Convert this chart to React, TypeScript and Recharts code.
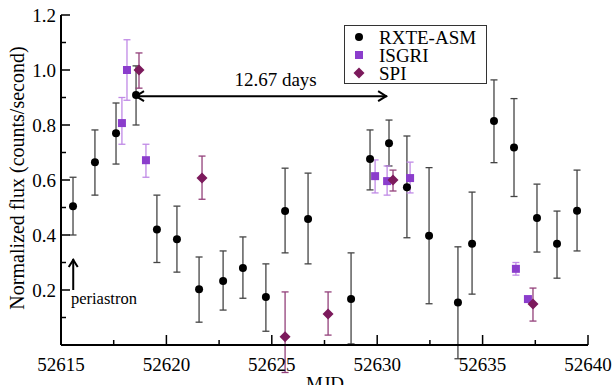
import {
  ComposedChart,
  Scatter,
  ErrorBar,
  XAxis,
  YAxis,
  Legend,
  ReferenceLine,
  ReferenceDot
} from 'recharts'

// RXTE-ASM
const asmMjd = [
  52615.57, 52616.61, 52617.61, 52618.56, 52619.55, 52620.5, 52621.55, 52622.69,
  52623.63, 52624.72, 52625.63, 52626.72, 52628.76, 52629.66, 52630.56, 52631.41,
  52632.46, 52633.83, 52634.5, 52635.54, 52636.49, 52637.58, 52638.53, 52639.48
]
const asmFlux = [
  0.505, 0.665, 0.77, 0.909, 0.42, 0.385, 0.203, 0.233, 0.28, 0.175, 0.487, 0.458,
  0.167, 0.676, 0.734, 0.574, 0.397, 0.155, 0.368, 0.815, 0.718, 0.462, 0.368, 0.488
]
const asmHi = [
  0.61, 0.782, 0.88, 1.015, 0.545, 0.505, 0.32, 0.342, 0.393, 0.295, 0.643, 0.625,
  0.335, 0.782, 0.818, 0.76, 0.645, 0.357, 0.556, 0.964, 0.896, 0.585, 0.487, 0.636
]
const asmLo = [
  0.4, 0.545, 0.658, 0.8, 0.3, 0.265, 0.083, 0.127, 0.17, 0.05, 0.335, 0.295,
  0.004, 0.564, 0.651, 0.39, 0.15, -0.05, 0.185, 0.663, 0.54, 0.338, 0.243, 0.342
]

// ISGRI
const isgriMjd = [52617.89, 52618.13, 52619.03, 52629.9, 52630.47, 52631.56, 52636.58, 52637.15]
const isgriFlux = [0.807, 1.0, 0.672, 0.614, 0.596, 0.607, 0.277, 0.167]
const isgriHi = [0.9, 1.11, 0.73, 0.673, 0.651, 0.665, 0.3, 0.175]
const isgriLo = [0.73, 0.89, 0.61, 0.553, 0.545, 0.553, 0.254, 0.158]

// SPI
const spiMjd = [52618.7, 52621.69, 52625.63, 52627.67, 52630.75, 52637.39]
const spiFlux = [1.0, 0.607, 0.03, 0.113, 0.6, 0.149]
const spiHi = [1.062, 0.687, 0.193, 0.193, 0.636, 0.207]
const spiLo = [0.934, 0.53, -0.1, 0.036, 0.56, 0.087]

const xTicks = [52615, 52617.5, 52620, 52622.5, 52625, 52627.5, 52630, 52632.5, 52635, 52637.5, 52640]
const yTicks = [0, 0.1, 0.2, 0.3, 0.4, 0.5, 0.6, 0.7, 0.8, 0.9, 1.0, 1.1, 1.2]

const build = (mjd: number[], flux: number[], lo: number[], hi: number[]) =>
  mjd.map((x, i) => ({ x, y: flux[i], err: [flux[i] - lo[i], hi[i] - flux[i]] }))

const asmData = build(asmMjd, asmFlux, asmLo, asmHi)
const isgriData = build(isgriMjd, isgriFlux, isgriLo, isgriHi)
const spiData = build(spiMjd, spiFlux, spiLo, spiHi)

const SERIF = 'Liberation Serif'
const ISGRI = '#8b3dcc'
const ISGRI_BAR = '#c08ae6'
const SPI = '#7c1a5c'
const SPI_BAR = '#93407a'

const txt = (size: number) => ({ fontFamily: SERIF, fontSize: size, fill: '#000' })

const isMajorX = (v: number) => Math.abs(v % 5) < 1e-6
const isMajorY = (v: number) => Math.abs((v * 10) % 2) < 1e-6

const BottomTick = (p: any) => {
  const v = p.payload.value
  const major = isMajorX(v)
  return (
    <g>
      <line x1={p.x} x2={p.x} y1={p.y} y2={p.y - (major ? 10 : 5)} stroke="#000" strokeWidth={1.5} />
      {major && (
        <text x={p.x} y={p.y + 26} textAnchor="middle" fontFamily={SERIF} style={txt(19)}>
          {v}
        </text>
      )}
    </g>
  )
}

const TopTick = (p: any) => {
  const major = isMajorX(p.payload.value)
  return <line x1={p.x} x2={p.x} y1={p.y} y2={p.y + (major ? 10 : 5)} stroke="#000" strokeWidth={1.5} />
}

const LeftTick = (p: any) => {
  const v = p.payload.value
  const major = isMajorY(v)
  return (
    <g>
      <line x1={p.x} x2={p.x + (major ? 9 : 5)} y1={p.y} y2={p.y} stroke="#000" strokeWidth={1.5} />
      {major && v > 0 && (
        <text x={p.x - 5} y={p.y + 7} textAnchor="end" fontFamily={SERIF} style={txt(19)}>
          {v.toFixed(1)}
        </text>
      )}
    </g>
  )
}

const RightTick = (p: any) => {
  const major = isMajorY(p.payload.value)
  return <line x1={p.x} x2={p.x - (major ? 9 : 5)} y1={p.y} y2={p.y} stroke="#000" strokeWidth={1.5} />
}

const Dot = (p: any) => <circle cx={p.cx} cy={p.cy} r={4} fill="#000" />
const Square = (p: any) => <rect x={p.cx - 4} y={p.cy - 4} width={8} height={8} fill={ISGRI} />
const Diamond = (p: any) => (
  <polygon
    points={`${p.cx},${p.cy - 5.5} ${p.cx + 5.5},${p.cy} ${p.cx},${p.cy + 5.5} ${p.cx - 5.5},${p.cy}`}
    fill={SPI}
  />
)

const DoubleArrow = (p: any) => {
  const { x1, y1, x2, y2 } = p
  return (
    <g stroke="#000" strokeWidth={2} fill="none">
      <line x1={x1} y1={y1} x2={x2} y2={y2} />
      <polyline points={`${x1 + 9},${y1 - 5} ${x1 + 1},${y1} ${x1 + 9},${y1 + 5}`} />
      <polyline points={`${x2 - 9},${y2 - 5} ${x2 - 1},${y2} ${x2 - 9},${y2 + 5}`} />
    </g>
  )
}

const UpArrow = (p: any) => {
  const { x1, y1, x2, y2 } = p
  const top = Math.min(y1, y2)
  const bottom = Math.max(y1, y2)
  return (
    <g stroke="#000" strokeWidth={2} fill="none">
      <line x1={x1} y1={bottom} x2={x2} y2={top} />
      <polyline points={`${x1 - 4.5},${top + 8} ${x1},${top + 1} ${x1 + 4.5},${top + 8}`} />
    </g>
  )
}

const legendItems = [
  { name: 'RXTE-ASM', icon: <circle cx={7} cy={7} r={4} fill="#000" /> },
  { name: 'ISGRI', icon: <rect x={3} y={3} width={8} height={8} fill={ISGRI} /> },
  { name: 'SPI', icon: <polygon points="7,1.5 12.5,7 7,12.5 1.5,7" fill={SPI} /> }
]

const LegendBox = () => (
  <div
    style={{
      width: 141,
      height: 57,
      border: '1px solid #333',
      background: '#fff',
      position: 'relative',
      fontFamily: SERIF,
      fontSize: 19
    }}
  >
    {legendItems.map((item, i) => (
      <div
        key={item.name}
        style={{ position: 'absolute', left: 7, top: 2 + i * 18, height: 18, display: 'flex', alignItems: 'center' }}
      >
        <svg width={14} height={14}>{item.icon}</svg>
        <span style={{ marginLeft: 13, lineHeight: '17px', color: '#000' }}>{item.name}</span>
      </div>
    ))}
  </div>
)

export default function App() {
  return (
    <div style={{ position: 'absolute', left: 0, top: 0, background: '#fff', fontFamily: SERIF }}>
      <ComposedChart width={615} height={385} margin={{ top: 15, right: 27, bottom: 0, left: 0 }} style={{ fontFamily: SERIF }}>
        <XAxis
          xAxisId="main"
          type="number"
          dataKey="x"
          domain={[52615, 52640]}
          ticks={xTicks}
          interval={0}
          allowDataOverflow
          height={40}
          tickSize={0}
          tickMargin={0}
          tickLine={false}
          tick={(p: any) => <BottomTick {...p} />}
          axisLine={{ stroke: '#000', strokeWidth: 2 }}
          label={{
            value: 'MJD',
            content: () => (
              <text x={325} y={390} textAnchor="middle" fontFamily={SERIF} style={txt(19)}>
                MJD
              </text>
            )
          }}
        />
        <XAxis
          xAxisId="top"
          orientation="top"
          type="number"
          domain={[52615, 52640]}
          ticks={xTicks}
          interval={0}
          allowDataOverflow
          height={0}
          tickSize={0}
          tickMargin={0}
          tickLine={false}
          tick={(p: any) => <TopTick {...p} />}
          axisLine={{ stroke: '#000', strokeWidth: 2 }}
        />
        <YAxis
          yAxisId="main"
          type="number"
          domain={[0, 1.2]}
          ticks={yTicks}
          interval={0}
          allowDataOverflow
          width={61}
          tickSize={0}
          tickMargin={0}
          tickLine={false}
          tick={(p: any) => <LeftTick {...p} />}
          axisLine={{ stroke: '#000', strokeWidth: 2 }}
          label={{
            value: 'Normalized flux (counts/second)',
            content: () => (
              <text
                x={24}
                y={178}
                transform="rotate(-90 24 178)"
                textAnchor="middle"
                fontFamily={SERIF}
                style={txt(20)}
              >
                Normalized flux (counts/second)
              </text>
            )
          }}
        />
        <YAxis
          yAxisId="right"
          orientation="right"
          type="number"
          domain={[0, 1.2]}
          ticks={yTicks}
          interval={0}
          allowDataOverflow
          width={0}
          tickSize={0}
          tickMargin={0}
          tickLine={false}
          tick={(p: any) => <RightTick {...p} />}
          axisLine={{ stroke: '#000', strokeWidth: 2 }}
        />

        <Scatter name="RXTE-ASM" xAxisId="main" yAxisId="main" data={asmData} dataKey="y" shape={Dot} isAnimationActive={false}>
          <ErrorBar dataKey="err" direction="y" width={3.5} stroke="#444" strokeWidth={1.3} isAnimationActive={false} />
        </Scatter>
        <Scatter name="ISGRI" xAxisId="main" yAxisId="main" data={isgriData} dataKey="y" shape={Square} isAnimationActive={false}>
          <ErrorBar dataKey="err" direction="y" width={3.5} stroke={ISGRI_BAR} strokeWidth={1.3} isAnimationActive={false} />
        </Scatter>
        <Scatter name="SPI" xAxisId="main" yAxisId="main" data={spiData} dataKey="y" shape={Diamond} isAnimationActive={false}>
          <ErrorBar dataKey="err" direction="y" width={3.5} stroke={SPI_BAR} strokeWidth={1.3} isAnimationActive={false} />
        </Scatter>

        <ReferenceLine
          xAxisId="main"
          yAxisId="main"
          segment={[{ x: 52618.51, y: 0.905 }, { x: 52630.47, y: 0.905 }]}
          shape={DoubleArrow}
          ifOverflow="visible"
        />
        <ReferenceDot
          xAxisId="main"
          yAxisId="main"
          x={52625.18}
          y={0.942}
          r={0}
          ifOverflow="visible"
          shape={(p: any) => (
            <text x={p.cx} y={p.cy} textAnchor="middle" fontFamily={SERIF} style={txt(19)}>
              12.67 days
            </text>
          )}
        />
        <ReferenceLine
          xAxisId="main"
          yAxisId="main"
          segment={[{ x: 52615.58, y: 0.2 }, { x: 52615.58, y: 0.313 }]}
          shape={UpArrow}
          ifOverflow="visible"
        />
        <ReferenceDot
          xAxisId="main"
          yAxisId="main"
          x={52615.47}
          y={0.149}
          r={0}
          ifOverflow="visible"
          shape={(p: any) => (
            <text x={p.cx} y={p.cy} textAnchor="start" fontFamily={SERIF} style={txt(16.5)}>
              periastron
            </text>
          )}
        />

        <Legend
          layout="vertical"
          align="center"
          verticalAlign="middle"
          content={() => <LegendBox />}
          wrapperStyle={{ position: 'absolute', left: 344, top: 25, width: 143, height: 59 }}
        />
      </ComposedChart>
    </div>
  )
}
